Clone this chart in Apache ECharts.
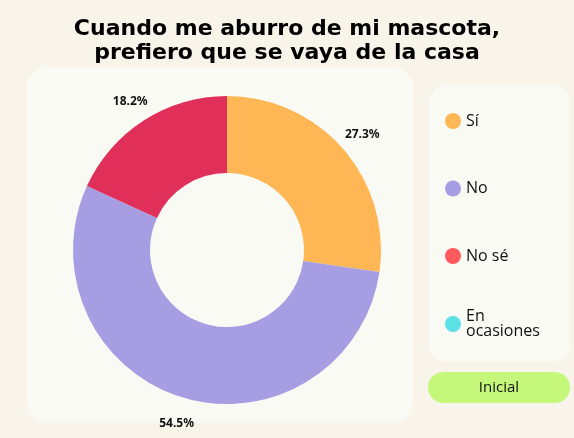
<!DOCTYPE html>
<html><head><meta charset="utf-8">
<script src="https://cdn.jsdelivr.net/npm/echarts@6/dist/echarts.min.js"></script>
<style>html,body{margin:0;padding:0;background:#f8f4ea;}#c{width:574px;height:438px;}</style>
</head><body><div id="c"></div>
<script>
const categories = ['Sí', 'No', 'No sé', 'En ocasiones'];
const values = [3, 6, 2, 0];
const sliceColors = ['#ffb755', '#a69de3', '#e0305a', '#5ce1e6'];
const legendColors = ['#ffb755', '#a69de3', '#ff5b5f', '#5ce1e6'];
const titleText = 'Cuando me aburro de mi mascota,\nprefiero que se vaya de la casa';
const buttonText = 'Inicial';

const chart = echarts.init(document.getElementById('c'));
chart.setOption({
  backgroundColor: '#f8f4ea',
  animation: false,
  title: {
    text: titleText, left: 'center', top: 12,
    textStyle: {fontFamily: 'DejaVu Sans', fontWeight: 'bold', fontSize: 22, lineHeight: 24, color: '#000'}
  },
  graphic: [
    {type: 'rect', z: -10, shape: {x: 27, y: 67, width: 386, height: 356, r: 20}, style: {fill: '#fafaf5'}},
    {type: 'rect', z: -10, shape: {x: 429, y: 85, width: 141, height: 277, r: 18}, style: {fill: '#fafaf5'}},
    {type: 'rect', z: -10, shape: {x: 428, y: 372, width: 142, height: 31, r: 15.5}, style: {fill: '#c5f77a'},
     textContent: {style: {text: buttonText, fontFamily: 'Open Sans', fontSize: 15, fill: '#111'}}, textConfig: {position: 'inside'}}
  ],
  legend: {
    orient: 'vertical', left: 440, top: 101,
    icon: 'circle', itemWidth: 16, itemHeight: 16, itemGap: 37.5,
    textStyle: {fontFamily: 'Open Sans', fontSize: 16, color: '#111', lineHeight: 30},
    formatter: n => n === 'En ocasiones' ? 'En\nocasiones' : n,
    data: categories.map((c, i) => ({
      name: c, itemStyle: {color: legendColors[i]},
      textStyle: c === 'En ocasiones' ? {lineHeight: 15} : undefined
    }))
  },
  series: [{
    type: 'pie', center: [227, 250], radius: [77, 154],
    startAngle: 90, clockwise: true, percentPrecision: 1,
    label: {show: false},
    labelLine: {show: false},
    emphasis: {disabled: true},
    data: categories.map((c, i) => ({name: c, value: values[i], itemStyle: {color: sliceColors[i]}}))
  }, {
    type: 'pie', center: [227, 252], radius: [176, 176],
    startAngle: 90, clockwise: true, percentPrecision: 1, silent: true,
    itemStyle: {color: 'transparent', borderWidth: 0},
    label: {
      show: true, position: 'inside',
      fontFamily: 'Noto Sans', fontWeight: 'bold', fontSize: 12, color: '#111',
      formatter: p => p.value ? p.percent.toFixed(1) + '%' : ''
    },
    labelLine: {show: false},
    emphasis: {disabled: true},
    data: categories.map((c, i) => ({name: c, value: values[i]}))
  }]
});
</script></body></html>
